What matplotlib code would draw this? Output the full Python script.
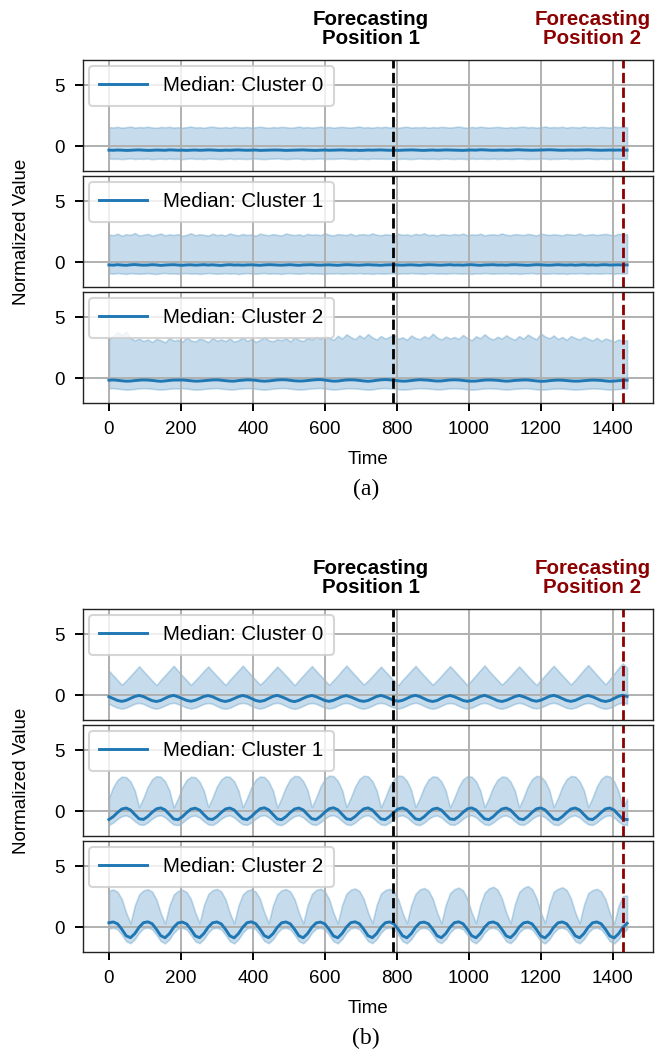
"""
Cluster median profiles with quantile bands for two clusterings, stacked
as panels (a) and (b), with the two forecasting positions marked.
"""

import numpy as np
import matplotlib
matplotlib.use("Agg")
import matplotlib.pyplot as plt
import matplotlib.transforms as mtransforms

plt.rcParams["font.family"] = ["Liberation Sans", "DejaVu Sans"]

W, H, DPI = 656, 1052, 100
BLUE = "#1f77b4"

# one sample every 12 steps: 15 daily cycles of 96 steps
time = np.arange(0, 1441, 12)

FORECAST_POS = [790, 1430]
FORECAST_COLORS = ["black", "#8b0000"]
FORECAST_LABEL_X = [728, 1344]
FORECAST_LABELS = ["Forecasting\nPosition 1", "Forecasting\nPosition 2"]

X_TICKS = [0, 200, 400, 600, 800, 1000, 1200, 1400]
Y_TICKS = [0, 5]

# ---- (a) clustering without daily structure ----
A0_UPPER = [
    1.58, 1.55, 1.60, 1.53, 1.57, 1.62, 1.54, 1.58,
    1.56, 1.61, 1.55, 1.52, 1.59, 1.56, 1.60, 1.54,
    1.57, 1.53, 1.58, 1.62, 1.55, 1.57, 1.52, 1.59,
    1.61, 1.56, 1.54, 1.58, 1.53, 1.60, 1.57, 1.55,
    1.59, 1.54, 1.57, 1.61, 1.56, 1.52, 1.58, 1.55,
    1.60, 1.57, 1.53, 1.56, 1.62, 1.55, 1.58, 1.54,
    1.57, 1.61, 1.55, 1.59, 1.53, 1.57, 1.60, 1.56,
    1.54, 1.58, 1.62, 1.55, 1.57, 1.53, 1.59, 1.56,
    1.60, 1.55, 1.57, 1.52, 1.58, 1.61, 1.54, 1.57,
    1.56, 1.59, 1.53, 1.58, 1.55, 1.60, 1.57, 1.54,
    1.58, 1.62, 1.56, 1.53, 1.59, 1.55, 1.61, 1.57,
    1.54, 1.57, 1.60, 1.56, 1.52, 1.58, 1.55, 1.59,
    1.61, 1.56, 1.58, 1.54, 1.57, 1.63, 1.55, 1.58,
    1.56, 1.60, 1.53, 1.59, 1.57, 1.55, 1.62, 1.56,
    1.58, 1.54, 1.60, 1.57, 1.55, 1.61, 1.58, 1.60,
    1.57,
]
A0_MEDIAN = [
    -0.30, -0.31, -0.29, -0.30, -0.32, -0.31, -0.29, -0.28,
    -0.30, -0.32, -0.31, -0.29, -0.30, -0.31, -0.28, -0.29,
    -0.31, -0.30, -0.32, -0.30, -0.29, -0.31, -0.30, -0.28,
    -0.29, -0.31, -0.32, -0.30, -0.31, -0.29, -0.28, -0.30,
    -0.31, -0.30, -0.29, -0.32, -0.31, -0.30, -0.29, -0.29,
    -0.30, -0.32, -0.31, -0.30, -0.29, -0.28, -0.30, -0.31,
    -0.32, -0.30, -0.29, -0.31, -0.30, -0.29, -0.28, -0.30,
    -0.31, -0.30, -0.32, -0.31, -0.29, -0.30, -0.29, -0.28,
    -0.30, -0.31, -0.30, -0.32, -0.30, -0.29, -0.28, -0.29,
    -0.31, -0.32, -0.30, -0.29, -0.31, -0.30, -0.28, -0.29,
    -0.30, -0.31, -0.32, -0.30, -0.29, -0.30, -0.27, -0.28,
    -0.30, -0.31, -0.30, -0.29, -0.31, -0.30, -0.28, -0.27,
    -0.29, -0.30, -0.31, -0.30, -0.29, -0.28, -0.27, -0.28,
    -0.30, -0.31, -0.30, -0.29, -0.30, -0.29, -0.28, -0.27,
    -0.29, -0.30, -0.31, -0.30, -0.29, -0.30, -0.29, -0.30,
    -0.30,
]
A0_LOWER = [
    -0.98, -1.01, -0.99, -1.03, -1.00, -0.97, -1.02, -0.99,
    -1.01, -0.98, -1.04, -1.00, -0.99, -1.02, -0.98, -1.01,
    -1.00, -1.03, -0.99, -0.97, -1.01, -1.00, -1.02, -0.98,
    -0.99, -1.01, -1.03, -1.00, -0.98, -1.02, -0.99, -1.01,
    -1.02, -0.99, -0.98, -1.01, -1.03, -1.00, -0.99, -0.97,
    -1.00, -1.02, -1.01, -0.98, -0.99, -1.03, -1.00, -1.01,
    -0.99, -0.98, -1.02, -1.00, -1.01, -0.99, -0.97, -1.00,
    -1.01, -1.03, -0.99, -1.00, -1.02, -0.98, -1.00, -0.99,
    -1.00, -1.01, -0.98, -1.02, -0.99, -1.01, -1.03, -1.00,
    -0.98, -1.00, -1.01, -0.99, -1.02, -1.00, -0.98, -1.01,
    -1.02, -0.99, -1.00, -1.03, -0.98, -1.01, -0.99, -1.00,
    -1.01, -0.98, -1.02, -1.00, -0.99, -1.01, -1.00, -0.98,
    -0.99, -1.02, -1.00, -1.01, -0.98, -0.99, -1.03, -1.00,
    -1.01, -0.99, -0.98, -1.02, -1.00, -1.01, -0.99, -0.98,
    -1.00, -1.02, -0.99, -1.01, -1.00, -0.98, -1.01, -0.99,
    -1.00,
]

A1_UPPER = [
    2.28, 2.22, 2.35, 2.18, 2.30, 2.25, 2.40, 2.20,
    2.26, 2.33, 2.19, 2.27, 2.36, 2.21, 2.29, 2.24,
    2.31, 2.17, 2.26, 2.38, 2.22, 2.30, 2.25, 2.19,
    2.34, 2.23, 2.28, 2.20, 2.37, 2.26, 2.21, 2.32,
    2.24, 2.29, 2.18, 2.35, 2.27, 2.22, 2.31, 2.25,
    2.20, 2.36, 2.28, 2.23, 2.30, 2.19, 2.33, 2.26,
    2.29, 2.22, 2.39, 2.25, 2.21, 2.32, 2.27, 2.24,
    2.35, 2.20, 2.28, 2.31, 2.23, 2.37, 2.26, 2.22,
    2.30, 2.27, 2.19, 2.34, 2.25, 2.29, 2.21, 2.33,
    2.26, 2.38, 2.23, 2.28, 2.20, 2.31, 2.27, 2.24,
    2.32, 2.25, 2.36, 2.22, 2.29, 2.26, 2.34, 2.21,
    2.27, 2.30, 2.24, 2.37, 2.25, 2.22, 2.31, 2.28,
    2.23, 2.33, 2.27, 2.20, 2.35, 2.29, 2.24, 2.30,
    2.26, 2.21, 2.32, 2.28, 2.25, 2.36, 2.22, 2.27,
    2.31, 2.24, 2.29, 2.33, 2.26, 2.21, 2.34, 2.28,
    2.30,
]
A1_MEDIAN = [
    -0.20, -0.22, -0.18, -0.21, -0.23, -0.19, -0.17, -0.20,
    -0.22, -0.21, -0.18, -0.20, -0.24, -0.21, -0.19, -0.18,
    -0.21, -0.23, -0.20, -0.19, -0.22, -0.20, -0.18, -0.21,
    -0.19, -0.22, -0.24, -0.20, -0.18, -0.21, -0.20, -0.22,
    -0.20, -0.19, -0.21, -0.23, -0.20, -0.18, -0.19, -0.21,
    -0.22, -0.20, -0.18, -0.21, -0.23, -0.20, -0.19, -0.18,
    -0.21, -0.22, -0.20, -0.19, -0.21, -0.23, -0.20, -0.18,
    -0.19, -0.21, -0.22, -0.20, -0.18, -0.20, -0.21, -0.23,
    -0.20, -0.19, -0.18, -0.21, -0.22, -0.20, -0.19, -0.21,
    -0.23, -0.20, -0.18, -0.19, -0.21, -0.22, -0.20, -0.18,
    -0.21, -0.20, -0.22, -0.19, -0.18, -0.21, -0.23, -0.20,
    -0.19, -0.18, -0.21, -0.20, -0.22, -0.19, -0.18, -0.20,
    -0.21, -0.23, -0.20, -0.18, -0.19, -0.21, -0.22, -0.20,
    -0.18, -0.20, -0.21, -0.19, -0.22, -0.20, -0.18, -0.21,
    -0.20, -0.22, -0.19, -0.18, -0.21, -0.20, -0.19, -0.21,
    -0.20,
]
A1_LOWER = [
    -0.88, -0.91, -0.86, -0.90, -0.93, -0.87, -0.89, -0.92,
    -0.90, -0.87, -0.91, -0.94, -0.88, -0.86, -0.90, -0.89,
    -0.92, -0.88, -0.87, -0.91, -0.89, -0.93, -0.90, -0.86,
    -0.89, -0.92, -0.90, -0.87, -0.91, -0.88, -0.94, -0.89,
    -0.87, -0.90, -0.92, -0.88, -0.86, -0.91, -0.89, -0.90,
    -0.93, -0.88, -0.87, -0.90, -0.92, -0.89, -0.86, -0.91,
    -0.89, -0.91, -0.93, -0.88, -0.90, -0.87, -0.92, -0.89,
    -0.88, -0.90, -0.86, -0.91, -0.89, -0.93, -0.88, -0.90,
    -0.91, -0.87, -0.89, -0.92, -0.88, -0.90, -0.86, -0.89,
    -0.90, -0.93, -0.88, -0.87, -0.91, -0.89, -0.92, -0.88,
    -0.87, -0.90, -0.91, -0.89, -0.93, -0.88, -0.90, -0.86,
    -0.89, -0.92, -0.88, -0.90, -0.87, -0.91, -0.89, -0.93,
    -0.90, -0.88, -0.86, -0.91, -0.89, -0.92, -0.90, -0.87,
    -0.91, -0.89, -0.93, -0.88, -0.90, -0.87, -0.89, -0.92,
    -0.88, -0.90, -0.91, -0.87, -0.89, -0.92, -0.88, -0.90,
    -0.89,
]

A2_UPPER = [
    3.20, 3.45, 3.78, 3.55, 3.82, 3.30, 3.10, 3.25,
    3.05, 3.18, 2.98, 3.22, 3.12, 2.95, 3.28, 3.08,
    3.15, 3.00, 3.35, 3.10, 3.02, 3.24, 3.14, 2.96,
    3.30, 3.08, 3.18, 3.05, 3.26, 3.00, 3.12, 3.34,
    3.06, 3.22, 2.98, 3.15, 3.38, 3.10, 3.04, 3.20,
    3.12, 3.28, 3.02, 3.36, 3.14, 3.06, 3.30, 3.18,
    3.42, 3.22, 3.55, 3.30, 3.15, 3.48, 3.25, 3.60,
    3.38, 3.20, 3.52, 3.28, 3.62, 3.35, 3.18, 3.46,
    3.25, 3.40, 3.58, 3.22, 3.36, 3.15, 3.50, 3.30,
    3.20, 3.45, 3.28, 3.65, 3.34, 3.18, 3.42, 3.26,
    3.38, 3.22, 3.55, 3.30, 3.12, 3.44, 3.28, 3.60,
    3.32, 3.18, 3.40, 3.25, 3.52, 3.30, 3.16, 3.46,
    3.24, 3.58, 3.36, 3.20, 3.68, 3.42, 3.28, 3.50,
    3.22, 3.38, 3.15, 3.46, 3.30, 3.18, 3.40, 3.24,
    3.10, 3.32, 3.05, 3.26, 3.14, 3.00, 3.18, 3.08,
    3.12,
]
A2_MEDIAN = [
    -0.14, -0.12, -0.15, -0.19, -0.22, -0.21, -0.17, -0.14,
    -0.12, -0.13, -0.16, -0.20, -0.23, -0.20, -0.16, -0.13,
    -0.13, -0.12, -0.15, -0.19, -0.22, -0.21, -0.18, -0.15,
    -0.12, -0.11, -0.14, -0.18, -0.21, -0.22, -0.17, -0.14,
    -0.11, -0.12, -0.15, -0.20, -0.22, -0.20, -0.16, -0.12,
    -0.10, -0.11, -0.15, -0.19, -0.21, -0.20, -0.17, -0.13,
    -0.10, -0.09, -0.13, -0.18, -0.22, -0.21, -0.16, -0.12,
    -0.11, -0.12, -0.16, -0.20, -0.23, -0.20, -0.15, -0.11,
    -0.09, -0.11, -0.15, -0.19, -0.22, -0.21, -0.17, -0.13,
    -0.10, -0.12, -0.14, -0.18, -0.21, -0.20, -0.16, -0.12,
    -0.11, -0.12, -0.16, -0.20, -0.22, -0.21, -0.17, -0.13,
    -0.12, -0.13, -0.15, -0.19, -0.22, -0.20, -0.16, -0.14,
    -0.12, -0.12, -0.16, -0.20, -0.23, -0.22, -0.18, -0.15,
    -0.13, -0.14, -0.17, -0.20, -0.22, -0.21, -0.18, -0.15,
    -0.13, -0.14, -0.16, -0.20, -0.23, -0.21, -0.18, -0.15,
    -0.14,
]
A2_LOWER = [
    -0.80, -0.79, -0.83, -0.87, -0.91, -0.89, -0.85, -0.81,
    -0.79, -0.80, -0.84, -0.88, -0.90, -0.88, -0.84, -0.80,
    -0.81, -0.79, -0.82, -0.87, -0.91, -0.90, -0.86, -0.82,
    -0.80, -0.78, -0.83, -0.86, -0.90, -0.89, -0.84, -0.81,
    -0.79, -0.80, -0.84, -0.88, -0.91, -0.88, -0.83, -0.80,
    -0.78, -0.79, -0.83, -0.87, -0.90, -0.89, -0.85, -0.81,
    -0.79, -0.78, -0.82, -0.86, -0.90, -0.88, -0.84, -0.80,
    -0.80, -0.81, -0.84, -0.88, -0.91, -0.89, -0.83, -0.79,
    -0.78, -0.80, -0.83, -0.87, -0.90, -0.89, -0.85, -0.81,
    -0.79, -0.80, -0.82, -0.86, -0.89, -0.88, -0.84, -0.80,
    -0.80, -0.81, -0.84, -0.88, -0.91, -0.89, -0.85, -0.81,
    -0.80, -0.81, -0.83, -0.87, -0.90, -0.88, -0.84, -0.82,
    -0.80, -0.80, -0.84, -0.88, -0.91, -0.90, -0.86, -0.83,
    -0.81, -0.82, -0.85, -0.88, -0.90, -0.89, -0.86, -0.83,
    -0.81, -0.82, -0.84, -0.88, -0.91, -0.89, -0.86, -0.83,
    -0.82,
]

# ---- (b) clustering with daily structure ----
B0_UPPER = [
    2.02, 1.63, 1.25, 0.87, 1.22, 1.60, 1.99, 2.38,
    1.98, 1.60, 1.22, 0.84, 1.26, 1.64, 2.03, 2.42,
    2.01, 1.62, 1.24, 0.86, 1.23, 1.61, 2.00, 2.37,
    1.97, 1.59, 1.21, 0.85, 1.27, 1.65, 2.04, 2.43,
    2.03, 1.64, 1.26, 0.88, 1.21, 1.59, 1.98, 2.36,
    1.99, 1.61, 1.23, 0.83, 1.25, 1.63, 2.02, 2.40,
    2.00, 1.62, 1.24, 0.86, 1.24, 1.62, 2.05, 2.44,
    2.04, 1.65, 1.27, 0.89, 1.20, 1.58, 1.97, 2.35,
    1.96, 1.58, 1.20, 0.84, 1.26, 1.64, 2.03, 2.41,
    2.00, 1.61, 1.23, 0.87, 1.23, 1.61, 2.01, 2.39,
    2.02, 1.62, 1.24, 0.85, 1.25, 1.65, 2.06, 2.45,
    2.01, 1.63, 1.25, 0.88, 1.22, 1.60, 1.99, 2.37,
    1.98, 1.59, 1.21, 0.85, 1.26, 1.63, 2.04, 2.42,
    2.03, 1.64, 1.26, 0.89, 1.27, 1.68, 2.10, 2.48,
    2.07, 1.67, 1.28, 0.90, 1.33, 1.78, 2.22, 2.62,
    2.25,
]
B0_MEDIAN = [
    -0.10, -0.25, -0.41, -0.48, -0.40, -0.24, -0.08, 0.00,
    -0.09, -0.26, -0.42, -0.49, -0.41, -0.23, -0.07, 0.01,
    -0.11, -0.25, -0.40, -0.47, -0.39, -0.24, -0.08, -0.01,
    -0.10, -0.27, -0.42, -0.49, -0.40, -0.25, -0.09, 0.00,
    -0.09, -0.24, -0.41, -0.48, -0.41, -0.24, -0.07, 0.01,
    -0.11, -0.26, -0.43, -0.50, -0.40, -0.23, -0.08, 0.00,
    -0.10, -0.25, -0.41, -0.48, -0.39, -0.24, -0.09, -0.01,
    -0.12, -0.27, -0.42, -0.48, -0.41, -0.25, -0.08, 0.00,
    -0.10, -0.25, -0.40, -0.47, -0.40, -0.24, -0.07, 0.01,
    -0.09, -0.26, -0.42, -0.49, -0.41, -0.23, -0.08, 0.00,
    -0.10, -0.25, -0.41, -0.48, -0.40, -0.24, -0.08, 0.01,
    -0.11, -0.26, -0.42, -0.49, -0.40, -0.25, -0.09, 0.00,
    -0.10, -0.24, -0.40, -0.47, -0.39, -0.23, -0.07, 0.01,
    -0.09, -0.25, -0.41, -0.48, -0.40, -0.24, -0.08, 0.00,
    -0.10, -0.26, -0.42, -0.49, -0.41, -0.24, -0.07, 0.02,
    -0.08,
]
B0_LOWER = [
    -0.68, -0.85, -1.00, -1.07, -0.99, -0.83, -0.67, -0.60,
    -0.69, -0.86, -1.01, -1.08, -0.98, -0.82, -0.66, -0.59,
    -0.70, -0.84, -0.99, -1.06, -0.99, -0.84, -0.68, -0.61,
    -0.68, -0.86, -1.02, -1.08, -1.00, -0.83, -0.67, -0.60,
    -0.67, -0.85, -1.00, -1.07, -0.98, -0.82, -0.66, -0.59,
    -0.69, -0.86, -1.01, -1.09, -1.00, -0.84, -0.68, -0.61,
    -0.68, -0.84, -1.00, -1.06, -0.99, -0.83, -0.67, -0.60,
    -0.70, -0.86, -1.02, -1.08, -0.99, -0.83, -0.66, -0.60,
    -0.68, -0.85, -0.99, -1.07, -0.98, -0.82, -0.67, -0.59,
    -0.69, -0.86, -1.01, -1.08, -1.00, -0.84, -0.68, -0.61,
    -0.68, -0.85, -1.00, -1.07, -0.99, -0.83, -0.67, -0.60,
    -0.70, -0.86, -1.01, -1.08, -0.99, -0.84, -0.68, -0.60,
    -0.68, -0.84, -1.00, -1.06, -0.98, -0.82, -0.66, -0.59,
    -0.69, -0.85, -1.01, -1.07, -0.99, -0.83, -0.67, -0.60,
    -0.68, -0.86, -1.01, -1.08, -1.00, -0.83, -0.66, -0.58,
    -0.67,
]

B1_UPPER = [
    1.10, 2.00, 2.58, 2.84, 2.80, 2.44, 1.70, 0.35,
    1.12, 2.02, 2.62, 2.88, 2.83, 2.46, 1.72, 0.33,
    1.08, 1.98, 2.57, 2.83, 2.79, 2.42, 1.68, 0.36,
    1.13, 2.03, 2.61, 2.86, 2.82, 2.45, 1.71, 0.34,
    1.10, 1.99, 2.59, 2.85, 2.81, 2.43, 1.69, 0.32,
    1.11, 2.01, 2.63, 2.90, 2.86, 2.47, 1.73, 0.35,
    1.14, 2.04, 2.65, 2.92, 2.88, 2.49, 1.74, 0.37,
    1.12, 2.02, 2.64, 2.91, 2.87, 2.48, 1.72, 0.34,
    1.13, 2.05, 2.66, 2.93, 2.88, 2.50, 1.75, 0.36,
    1.09, 1.99, 2.60, 2.86, 2.82, 2.44, 1.70, 0.33,
    1.11, 2.01, 2.62, 2.88, 2.84, 2.46, 1.71, 0.35,
    1.10, 2.00, 2.59, 2.85, 2.81, 2.43, 1.69, 0.34,
    1.12, 2.03, 2.64, 2.90, 2.86, 2.47, 1.73, 0.36,
    1.11, 2.02, 2.63, 2.89, 2.85, 2.46, 1.72, 0.35,
    1.13, 2.04, 2.65, 2.91, 2.86, 2.45, 1.66, 0.30,
    1.05,
]
B1_MEDIAN = [
    -0.66, -0.42, -0.08, 0.20, 0.28, 0.12, -0.25, -0.60,
    -0.65, -0.41, -0.07, 0.21, 0.29, 0.13, -0.24, -0.61,
    -0.67, -0.43, -0.09, 0.19, 0.27, 0.11, -0.26, -0.60,
    -0.65, -0.42, -0.08, 0.20, 0.28, 0.12, -0.25, -0.59,
    -0.66, -0.41, -0.07, 0.22, 0.30, 0.13, -0.24, -0.61,
    -0.67, -0.42, -0.08, 0.20, 0.28, 0.12, -0.25, -0.60,
    -0.65, -0.40, -0.06, 0.22, 0.30, 0.14, -0.23, -0.60,
    -0.66, -0.42, -0.08, 0.21, 0.29, 0.12, -0.25, -0.61,
    -0.66, -0.41, -0.07, 0.21, 0.29, 0.13, -0.24, -0.60,
    -0.67, -0.43, -0.09, 0.19, 0.27, 0.11, -0.26, -0.61,
    -0.65, -0.41, -0.07, 0.21, 0.29, 0.13, -0.24, -0.60,
    -0.66, -0.42, -0.08, 0.20, 0.28, 0.12, -0.25, -0.60,
    -0.66, -0.41, -0.07, 0.21, 0.29, 0.13, -0.24, -0.61,
    -0.67, -0.42, -0.08, 0.20, 0.28, 0.12, -0.25, -0.60,
    -0.66, -0.41, -0.07, 0.21, 0.28, 0.11, -0.27, -0.62,
    -0.66,
]
B1_LOWER = [
    -1.10, -0.90, -0.60, -0.38, -0.32, -0.48, -0.80, -1.05,
    -1.09, -0.89, -0.59, -0.37, -0.31, -0.47, -0.79, -1.06,
    -1.11, -0.91, -0.61, -0.39, -0.33, -0.49, -0.81, -1.05,
    -1.10, -0.90, -0.60, -0.38, -0.32, -0.48, -0.80, -1.04,
    -1.09, -0.89, -0.59, -0.36, -0.30, -0.47, -0.79, -1.06,
    -1.11, -0.90, -0.60, -0.38, -0.32, -0.48, -0.80, -1.05,
    -1.09, -0.88, -0.58, -0.36, -0.30, -0.46, -0.78, -1.05,
    -1.10, -0.90, -0.60, -0.37, -0.31, -0.48, -0.80, -1.06,
    -1.10, -0.89, -0.59, -0.37, -0.31, -0.47, -0.79, -1.05,
    -1.11, -0.91, -0.61, -0.39, -0.33, -0.49, -0.81, -1.06,
    -1.09, -0.89, -0.59, -0.37, -0.31, -0.47, -0.79, -1.05,
    -1.10, -0.90, -0.60, -0.38, -0.32, -0.48, -0.80, -1.05,
    -1.10, -0.89, -0.59, -0.37, -0.31, -0.47, -0.79, -1.06,
    -1.11, -0.90, -0.60, -0.38, -0.32, -0.48, -0.80, -1.05,
    -1.10, -0.89, -0.59, -0.37, -0.32, -0.49, -0.82, -1.07,
    -1.10,
]

B2_UPPER = [
    3.00, 3.10, 2.90, 2.30, 1.20, 0.35, 1.80, 2.70,
    3.02, 3.12, 2.92, 2.28, 1.18, 0.33, 1.78, 2.68,
    2.98, 3.08, 2.88, 2.31, 1.22, 0.36, 1.82, 2.72,
    3.04, 3.14, 2.94, 2.29, 1.19, 0.34, 1.79, 2.69,
    3.01, 3.11, 2.91, 2.32, 1.21, 0.35, 1.81, 2.71,
    3.03, 3.13, 2.93, 2.30, 1.20, 0.33, 1.80, 2.73,
    3.06, 3.16, 2.95, 2.31, 1.19, 0.34, 1.83, 2.75,
    3.08, 3.18, 2.97, 2.33, 1.22, 0.36, 1.84, 2.76,
    3.05, 3.15, 2.94, 2.30, 1.20, 0.35, 1.82, 2.74,
    3.10, 3.22, 3.00, 2.34, 1.21, 0.34, 1.85, 2.80,
    3.12, 3.25, 3.02, 2.35, 1.23, 0.36, 1.86, 2.82,
    3.18, 3.32, 3.08, 2.38, 1.22, 0.35, 1.88, 2.88,
    3.22, 3.38, 3.12, 2.40, 1.24, 0.37, 1.90, 2.92,
    3.15, 3.28, 3.05, 2.36, 1.21, 0.34, 1.84, 2.80,
    3.05, 3.15, 2.94, 2.30, 1.18, 0.32, 1.75, 2.55,
    2.60,
]
B2_MEDIAN = [
    0.38, 0.45, 0.30, -0.15, -0.68, -0.83, -0.50, 0.02,
    0.39, 0.46, 0.31, -0.14, -0.67, -0.84, -0.51, 0.01,
    0.37, 0.44, 0.29, -0.16, -0.69, -0.83, -0.49, 0.03,
    0.38, 0.45, 0.30, -0.15, -0.68, -0.85, -0.50, 0.02,
    0.39, 0.46, 0.31, -0.14, -0.67, -0.83, -0.51, 0.01,
    0.38, 0.45, 0.30, -0.15, -0.68, -0.84, -0.50, 0.02,
    0.37, 0.44, 0.29, -0.16, -0.69, -0.84, -0.49, 0.03,
    0.39, 0.46, 0.31, -0.14, -0.67, -0.83, -0.50, 0.02,
    0.38, 0.45, 0.30, -0.15, -0.68, -0.84, -0.51, 0.01,
    0.38, 0.44, 0.30, -0.15, -0.68, -0.83, -0.50, 0.02,
    0.39, 0.46, 0.31, -0.14, -0.67, -0.84, -0.50, 0.02,
    0.38, 0.45, 0.30, -0.15, -0.68, -0.83, -0.49, 0.03,
    0.37, 0.44, 0.29, -0.16, -0.69, -0.85, -0.51, 0.01,
    0.38, 0.45, 0.30, -0.15, -0.68, -0.84, -0.50, 0.02,
    0.38, 0.45, 0.30, -0.15, -0.69, -0.85, -0.52, 0.00,
    0.34,
]
B2_LOWER = [
    -0.08, -0.02, -0.15, -0.60, -1.12, -1.28, -0.95, -0.42,
    -0.07, -0.01, -0.14, -0.59, -1.11, -1.29, -0.96, -0.43,
    -0.09, -0.03, -0.16, -0.61, -1.13, -1.28, -0.94, -0.41,
    -0.08, -0.02, -0.15, -0.60, -1.12, -1.30, -0.95, -0.42,
    -0.07, -0.01, -0.14, -0.59, -1.11, -1.28, -0.96, -0.43,
    -0.08, -0.02, -0.15, -0.60, -1.12, -1.29, -0.95, -0.42,
    -0.09, -0.03, -0.16, -0.61, -1.13, -1.29, -0.94, -0.41,
    -0.07, -0.01, -0.14, -0.59, -1.11, -1.28, -0.95, -0.42,
    -0.08, -0.02, -0.15, -0.60, -1.12, -1.29, -0.96, -0.43,
    -0.08, -0.03, -0.15, -0.60, -1.12, -1.28, -0.95, -0.42,
    -0.07, -0.01, -0.14, -0.59, -1.11, -1.29, -0.95, -0.42,
    -0.08, -0.02, -0.15, -0.60, -1.12, -1.28, -0.94, -0.41,
    -0.09, -0.03, -0.16, -0.61, -1.13, -1.30, -0.96, -0.43,
    -0.08, -0.02, -0.15, -0.60, -1.12, -1.29, -0.95, -0.42,
    -0.08, -0.02, -0.15, -0.60, -1.13, -1.30, -0.97, -0.45,
    -0.12,
]

PANELS_A = [(A0_LOWER, A0_MEDIAN, A0_UPPER),
            (A1_LOWER, A1_MEDIAN, A1_UPPER),
            (A2_LOWER, A2_MEDIAN, A2_UPPER)]
PANELS_B = [(B0_LOWER, B0_MEDIAN, B0_UPPER),
            (B1_LOWER, B1_MEDIAN, B1_UPPER),
            (B2_LOWER, B2_MEDIAN, B2_UPPER)]

# axes geometry in pixels (from the top of the figure)
AX_LEFT, AX_W, AX_H, AX_GAP = 83, 570, 111, 5
BLOCK_TOPS = {"a": 60, "b": 609}

fig = plt.figure(figsize=(W / DPI, H / DPI), dpi=DPI)


def add_px_axes(top):
    return fig.add_axes([AX_LEFT / W, 1 - (top + AX_H) / H, AX_W / W, AX_H / H])


def draw_block(tag, panels):
    """Draw three stacked cluster panels plus labels for one clustering."""
    top = BLOCK_TOPS[tag]
    axes = []
    for i, (lower, median, upper) in enumerate(panels):
        ax = add_px_axes(top + i * (AX_H + AX_GAP))
        ax.fill_between(time, lower, upper, color=BLUE, alpha=0.25, lw=1.2)
        ax.plot(time, median, color=BLUE, lw=2.1, label=f"Median: Cluster {i}")
        for pos, col in zip(FORECAST_POS, FORECAST_COLORS):
            ax.axvline(pos, color=col, ls="--", lw=2.0)

        ax.set_ylim(-2.0, 7.05)
        ax.set_yticks(Y_TICKS)
        ax.set_xticks(X_TICKS)
        ax.grid(True, color="#b0b0b0", lw=1.4)
        ax.tick_params(axis="both", labelsize=13.5, length=6, width=1.4,
                       color="black", direction="out", pad=7)
        for sp in ax.spines.values():
            sp.set_color("#222222")
            sp.set_linewidth(1.0)

        leg = ax.legend(loc="upper left", fontsize=14.8, borderaxespad=0.3,
                        borderpad=0.5, handlelength=2.3, framealpha=0.8,
                        edgecolor="0.8", fancybox=True)
        leg.get_frame().set_linewidth(1.5)

        if i < 2:
            ax.tick_params(axis="x", bottom=False, labelbottom=False)
        axes.append(ax)

    # shared x-limits follow the data plus default margins
    for ax in axes[1:]:
        ax.sharex(axes[0])

    axes[-1].set_xlabel("Time", fontsize=13.5, labelpad=9)

    # forecasting position labels above the top panel
    trans = mtransforms.blended_transform_factory(axes[0].transData, axes[0].transAxes)
    for lx, lab, col in zip(FORECAST_LABEL_X, FORECAST_LABELS, FORECAST_COLORS):
        axes[0].text(lx, 1 + 31 / AX_H, lab, transform=trans, ha="center",
                     va="center", fontsize=14.8, fontweight="bold", color=col,
                     linespacing=1.05)

    block_mid = top + (3 * AX_H + 2 * AX_GAP) / 2
    fig.text(22 / W, 1 - block_mid / H, "Normalized Value", rotation=90,
             ha="center", va="center", fontsize=13.5)

    caption_y = top + 3 * AX_H + 2 * AX_GAP + 86
    fig.text(366 / W, 1 - caption_y / H, f"({tag})", ha="center", va="center",
             fontsize=17, family=["Liberation Serif", "DejaVu Serif"])


draw_block("a", PANELS_A)
draw_block("b", PANELS_B)

fig.savefig("out.png", dpi=DPI)
